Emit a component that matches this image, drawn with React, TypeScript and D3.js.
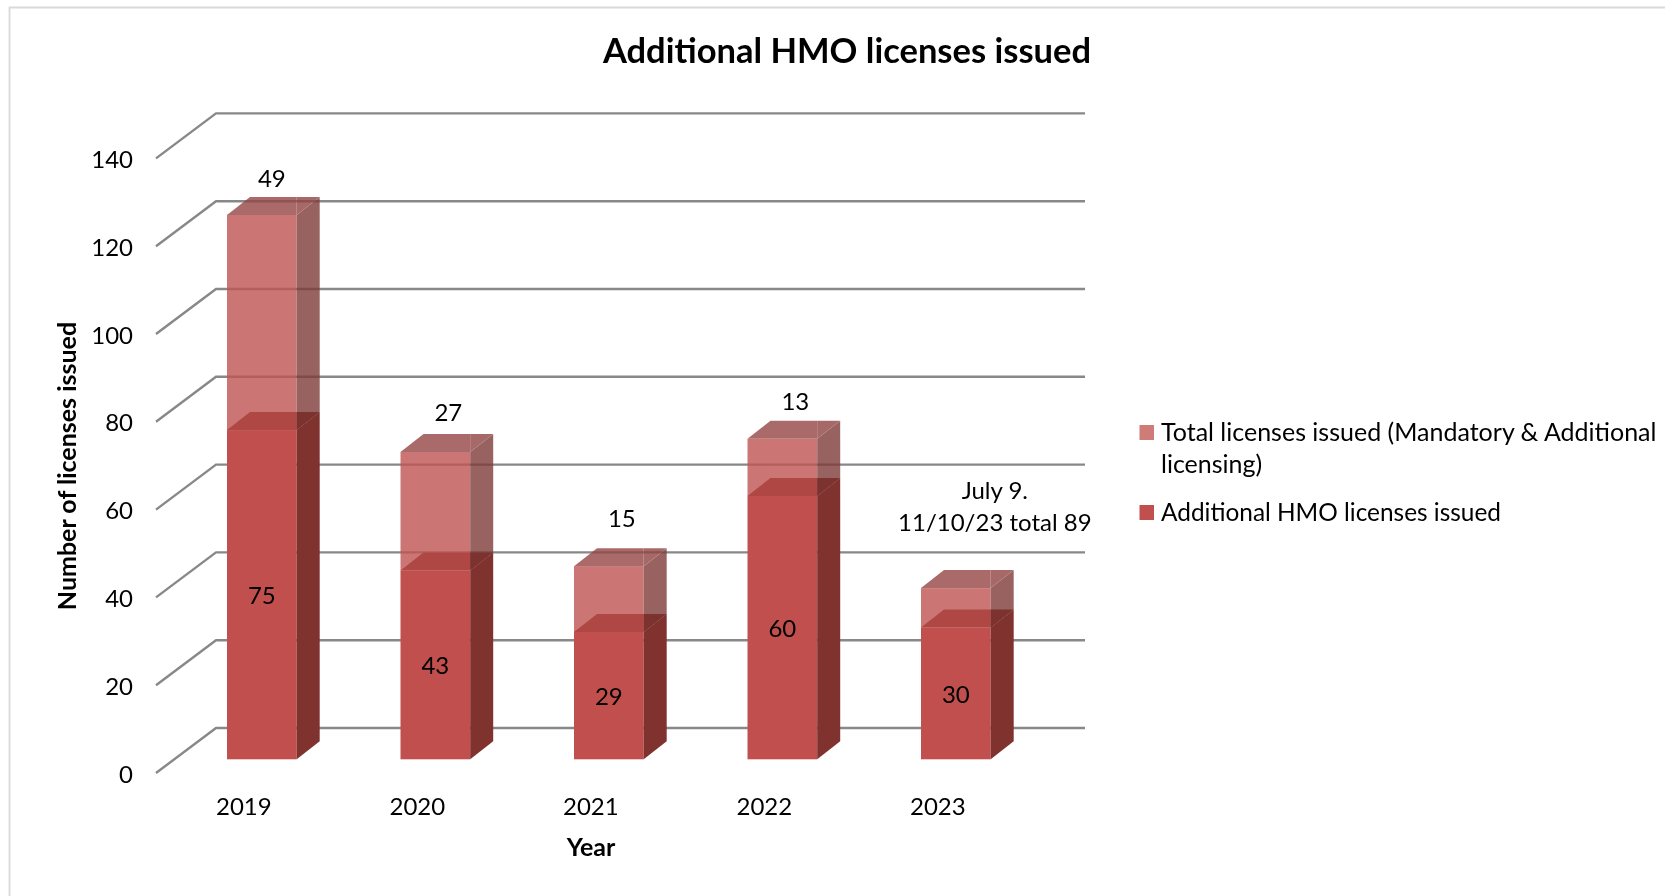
import React from "react";
import * as d3 from "d3";

const years = ["2019", "2020", "2021", "2022", "2023"];
const additional = [75, 43, 29, 60, 30];
const extra = [49, 27, 15, 13, 9];
const extraLabels = ["49", "27", "15", "13", "July 9.|11/10/23 total 89"];
const yTicks = [0, 20, 40, 60, 80, 100, 120, 140];
const legendLines = [
  ["Total licenses issued (Mandatory & Additional", "licensing)"],
  ["Additional HMO licenses issued"],
];
const labelDx = [10, 13, 13, 13, 39];
const labelDy = [-36, -39, -47, -37, -97];

const FONT = "Lato, 'Open Sans', sans-serif";
const GRID = "#888888";
const depthX = 23;
const depthY = 18;
const backDx = 60;
const backDy = 45;

const y = d3.scaleLinear().domain([0, 140]).range([759.3, 144.7]);
const x = d3.scalePoint().domain(years).range([227, 921]);
const barW = 69.7;

const pts = (a: number[][]) => a.map((p) => p.join(",")).join(" ");

function Block({ x0, top, bottom, front, side, cap, capEnd, opacity }: any) {
  const x1 = x0 + barW;
  return (
    <g opacity={opacity}>
      <rect x={x0} y={top} width={barW} height={bottom - top} fill={front} />
      <polygon points={pts([[x1, top], [x1 + depthX, top - depthY], [x1 + depthX, bottom - depthY], [x1, bottom]])} fill={side} />
      <polygon points={pts([[x0, top], [x0 + depthX, top - depthY], [x1, top - depthY], [x1, top]])} fill={cap} />
      <polygon points={pts([[x1, top], [x1, top - depthY], [x1 + depthX, top - depthY]])} fill={capEnd} />
    </g>
  );
}

export default function App() {
  return (
    <svg width={1665} height={896} style={{ position: "absolute", left: 0, top: 0, background: "#fff" }} fontFamily={FONT} fill="#000">
      <defs>
        <filter id="soft" x="0" y="0" width="100%" height="100%">
          <feGaussianBlur stdDeviation={0.4} />
        </filter>
      </defs>
      <g filter="url(#soft)">
        <rect width={1665} height={896} fill="#fff" />
        <path d="M9.5,896V7.5H1665" fill="none" stroke="#d9d9d9" strokeWidth={1.8} />
        <text x={847} y={62.5} fontSize={34.5} fontWeight={700} textAnchor="middle">Additional HMO licenses issued</text>

        {yTicks.map((t) => {
          const yb = y(t) - (backDy - depthY) - depthY + 13.7;
          return (
            <g key={t}>
              <polyline points={pts([[156, yb + backDy], [156 + backDx, yb], [1085, yb]])} fill="none" stroke={GRID} strokeWidth={2.4} />
              <text x={133} y={yb + backDy + 9.5} fontSize={24} textAnchor="end">{t}</text>
            </g>
          );
        })}

        {years.map((yr, i) => {
          const x0 = x(yr)!;
          const mid = y(additional[i]);
          const top = y(additional[i] + extra[i]);
          return (
            <g key={yr}>
              <Block x0={x0} top={top} bottom={mid} front="#BF5552" side="#7E3C3A" cap="#944644" capEnd="#904442" opacity={0.8} />
              <Block x0={x0} top={mid} bottom={y(0)} front="#C0504D" side="#7F312F" cap="#AF4744" capEnd="#7B302E" opacity={1} />
            </g>
          );
        })}

        {years.map((yr, i) => {
          const cx = x(yr)! + barW / 2;
          const top = y(additional[i] + extra[i]);
          const lines = extraLabels[i].split("|");
          return (
            <g key={yr} fontSize={24} textAnchor="middle">
              <text x={cx} y={(y(additional[i]) + y(0)) / 2 + 9.5}>{additional[i]}</text>
              {lines.map((l, k) => (
                <text key={k} x={cx + labelDx[i]} y={top + labelDy[i] + 8 + k * 32}>{l}</text>
              ))}
              <text x={cx - 18} y={815}>{yr}</text>
            </g>
          );
        })}

        <text transform="translate(76,466) rotate(-90)" fontSize={25} fontWeight={700} textAnchor="middle">Number of licenses issued</text>
        <text x={591} y={856} fontSize={25} fontWeight={700} textAnchor="middle">Year</text>

        <rect x={1139.5} y={425} width={14.5} height={15} fill="#CF7B79" />
        <rect x={1139.5} y={505} width={14.5} height={15} fill="#C0504D" />
        <g fontSize={25}>
          <text x={1161} y={440.5}>{legendLines[0][0]}</text>
          <text x={1161} y={472.5}>{legendLines[0][1]}</text>
          <text x={1161} y={520.5} fontSize={24.4}>{legendLines[1][0]}</text>
        </g>
      </g>
    </svg>
  );
}
